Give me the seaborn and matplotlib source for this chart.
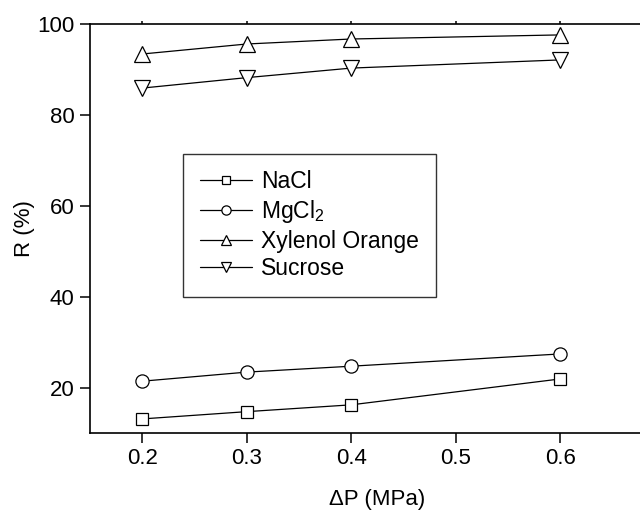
import matplotlib
matplotlib.use("Agg")
import matplotlib.pyplot as plt
import seaborn as sns
import pandas as pd

# Applied pressure (MPa)
pressure = [0.2, 0.3, 0.4, 0.6]

# Rejection (%) for each solute
nacl = [13.1, 14.7, 16.2, 21.9]
mgcl2 = [21.4, 23.4, 24.7, 27.4]
xylenol_orange = [93.4, 95.6, 96.7, 97.6]
sucrose = [85.9, 88.2, 90.3, 92.1]

series_names = ["NaCl", "MgCl$_2$", "Xylenol Orange", "Sucrose"]
series_values = [nacl, mgcl2, xylenol_orange, sucrose]
series_markers = ["s", "o", "^", "v"]
series_sizes = [9, 9.5, 11, 11]

x_ticks = [0.2, 0.3, 0.4, 0.5, 0.6]
y_ticks = [20, 40, 60, 80, 100]

sns.set_theme(style="ticks")
plt.rcParams["font.family"] = ["Liberation Sans", "DejaVu Sans"]
plt.rcParams["mathtext.fontset"] = "custom"
plt.rcParams["mathtext.rm"] = "Liberation Sans"
plt.rcParams["mathtext.it"] = "Liberation Sans"
plt.rcParams["text.color"] = "black"
plt.rcParams["axes.labelcolor"] = "black"
plt.rcParams["xtick.color"] = "black"
plt.rcParams["ytick.color"] = "black"

frames = []
for name, vals in zip(series_names, series_values):
    frames.append(pd.DataFrame({"dP": pressure, "R": vals, "solute": name}))
df = pd.concat(frames, ignore_index=True)

fig = plt.figure(figsize=(6.4, 5.12), dpi=100)
ax = fig.add_axes([90 / 640, 79 / 512, 575 / 640, 409 / 512])

for name, marker, ms in zip(series_names, series_markers, series_sizes):
    sub = df[df["solute"] == name]
    sns.lineplot(
        data=sub, x="dP", y="R", ax=ax,
        color="black", linewidth=0.9,
        marker=marker, markersize=ms,
        markerfacecolor="white", markeredgecolor="black",
        markeredgewidth=0.9, label=name, legend=False,
    )

ax.set_xlim(0.15, 0.70)
ax.set_ylim(10, 100)
ax.set_xticks(x_ticks)
ax.set_xticklabels([f"{t:.1f}" for t in x_ticks])
ax.set_yticks(y_ticks)
ax.set_yticklabels([str(t) for t in y_ticks])

for side in ["left", "bottom", "top", "right"]:
    ax.spines[side].set_linewidth(1.2)
    ax.spines[side].set_color("black")

ax.tick_params(axis="both", direction="out", length=7, width=1.1,
               labelsize=16, colors="black", labelcolor="black", pad=4)
ax.tick_params(axis="x", top=True, labeltop=False)
for t in ax.xaxis.get_major_ticks():
    t.tick2line.set_markersize(2)

ax.set_xlabel("\u0394P (MPa)", fontsize=16, color="black", labelpad=14)
ax.set_ylabel("R (%)", fontsize=16, color="black", labelpad=2)

handles = ax.get_lines()[:4]
leg = ax.legend(
    handles, series_names,
    loc="upper left", bbox_to_anchor=(93 / 575, 279 / 409),
    borderaxespad=0, fontsize=16.5, frameon=True, fancybox=False,
    edgecolor="black", handlelength=2.3, handletextpad=0.4,
    markerscale=0.7, labelspacing=0.2, borderpad=0.72,
)
leg.get_frame().set_linewidth(1.0)
for txt in leg.get_texts():
    txt.set_color("black")

ax.grid(False)
fig.savefig("out.png", dpi=100)
